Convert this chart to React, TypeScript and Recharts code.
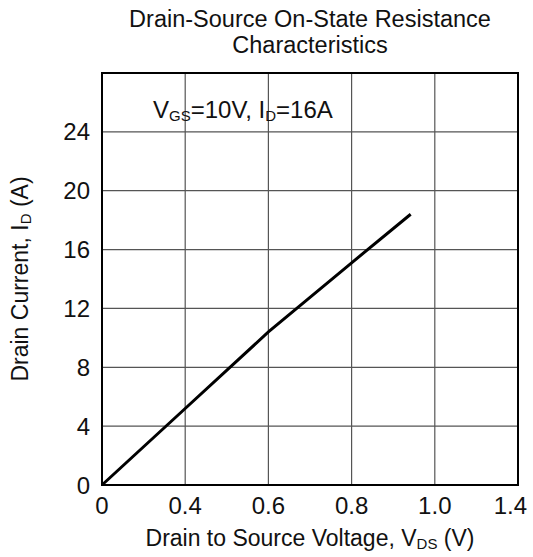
import {
  LineChart,
  Line,
  XAxis,
  YAxis,
  CartesianGrid,
  ReferenceArea,
} from "recharts";

// x positions are in grid units (one unit per vertical gridline)
const xTickLabels = ["0", "0.4", "0.6", "0.8", "1.0", "1.4"];
const xTicks = [0, 1, 2, 3, 4, 5];
const yTicks = [0, 4, 8, 12, 16, 20, 24, 28];

const curveX = [0, 1, 2, 3, 3.71];
const curveY = [0, 5.2, 10.4, 15.1, 18.4];

const FONT = "'Liberation Sans', Arial, sans-serif";

const chartData = curveX.map((x, i) => ({ x, id: curveY[i] }));

const XTick = (props: any) => {
  const { x, y, payload } = props;
  const idx = xTicks.indexOf(payload.value);
  const last = idx === xTicks.length - 1;
  return (
    <text
      x={last ? x + 9 : x}
      y={y + 21}
      textAnchor={last ? "end" : "middle"}
      fontSize={24}
      fill="#111"
      fontFamily={FONT}
    >
      {xTickLabels[idx]}
    </text>
  );
};

const XLabel = (props: any) => {
  const vb = props.viewBox;
  const cx = vb.x + vb.width / 2;
  return (
    <text x={cx} y={vb.y + 61} textAnchor="middle" fontSize={23} fill="#111" fontFamily={FONT}>
      Drain to Source Voltage, V
      <tspan fontSize={15} dy={3}>DS</tspan>
      <tspan dy={-3}> (V)</tspan>
    </text>
  );
};

const YLabel = (props: any) => {
  const vb = props.viewBox;
  const cy = vb.y + vb.height / 2;
  const cx = 28;
  return (
    <text
      x={cx}
      y={cy}
      textAnchor="middle"
      fontSize={23}
      fill="#111"
      fontFamily={FONT}
      transform={`rotate(-90 ${cx} ${cy})`}
    >
      Drain Current, I
      <tspan fontSize={15} dy={3}>D</tspan>
      <tspan dy={-3}> (A)</tspan>
    </text>
  );
};

export default function App() {
  return (
    <div style={{ position: "absolute", left: 0, top: 0, width: 533, height: 557, background: "#fff" }}>
      <div
        style={{
          position: "absolute",
          left: 92,
          width: 436,
          top: 6,
          textAlign: "center",
          fontFamily: FONT,
          fontSize: 23.5,
          lineHeight: "26px",
          color: "#111",
          whiteSpace: "nowrap",
        }}
      >
        Drain-Source On-State Resistance
        <br />
        Characteristics
      </div>
      <div
        style={{
          position: "absolute",
          left: 153,
          top: 98,
          fontFamily: FONT,
          fontSize: 24,
          lineHeight: "24px",
          color: "#111",
          zIndex: 2,
          whiteSpace: "nowrap",
        }}
      >
        V<sub style={{ fontSize: 15, lineHeight: 0, verticalAlign: "-3px" }}>GS</sub>=10V, I
        <sub style={{ fontSize: 15, lineHeight: 0, verticalAlign: "-3px" }}>D</sub>=16A
      </div>
      <LineChart
        width={533}
        height={557}
        data={chartData}
        margin={{ top: 73, right: 15, left: 30, bottom: 0 }}
      >
        <CartesianGrid stroke="#555" strokeWidth={1.2} />
        <XAxis
          dataKey="x"
          type="number"
          domain={[0, 5]}
          ticks={xTicks}
          tick={<XTick />}
          tickLine={false}
          axisLine={false}
          height={72}
          label={<XLabel />}
        />
        <YAxis
          type="number"
          domain={[0, 28]}
          ticks={yTicks}
          width={72}
          tickLine={false}
          axisLine={false}
          tickMargin={6}
          tickFormatter={(v: number) => (v === 28 ? "" : String(v))}
          tick={{ fontSize: 24, fill: "#111", fontFamily: FONT }}
          label={<YLabel />}
        />
        <ReferenceArea
          x1={0}
          x2={5}
          y1={0}
          y2={28}
          fill="none"
          stroke="#000"
          strokeWidth={2}
        />
        <Line
          dataKey="id"
          type="linear"
          stroke="#000"
          strokeWidth={3}
          dot={false}
          isAnimationActive={false}
        />
      </LineChart>
    </div>
  );
}
